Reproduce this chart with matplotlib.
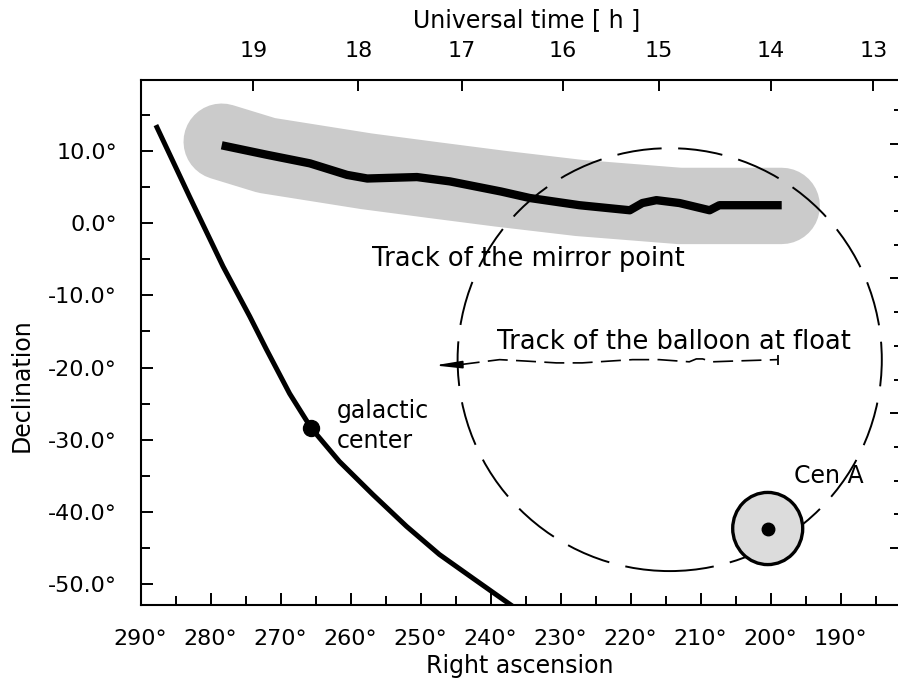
import numpy as np
import matplotlib
matplotlib.use('Agg')
import matplotlib.pyplot as plt
from matplotlib.patches import Ellipse

plt.rcParams['font.family'] = ['DejaVu Sans']
plt.rcParams['axes.unicode_minus'] = False

# galactic plane (RA, Dec in degrees)
gal_ra = [287.8, 283.0, 278.2, 274.4, 272.0, 268.7, 265.6, 261.6, 256.8, 252.0, 247.3, 242.5, 236.8]
gal_dec = [13.6, 3.7, -6.0, -12.9, -17.5, -23.6, -28.4, -33.0, -37.6, -42.0, -45.9, -49.2, -53.1]
gc_ra, gc_dec = 265.6, -28.4

# mirror point track and its uncertainty band
mirror_ra = [278.4, 272.0, 265.8, 260.5, 257.6, 250.5, 245.8, 238.5, 234.4, 227.3,
             220.1, 218.3, 216.3, 213.0, 208.7, 207.3, 203.4, 198.4]
mirror_dec = [10.8, 9.5, 8.3, 6.7, 6.2, 6.4, 5.8, 4.4, 3.5, 2.5,
              1.8, 2.8, 3.2, 2.8, 1.8, 2.5, 2.5, 2.5]
band_ra = [278.4, 272.0, 257.7, 248.3, 238.7, 227.3, 213.0, 198.4]
band_dec = [11.3, 9.4, 7.2, 6.0, 4.8, 3.5, 2.4, 2.4]

# balloon at float; first point is the arrow tip
balloon_ra = [248.0, 244.4, 238.7, 234.9, 230.6, 226.9, 223.0, 219.7, 215.9,
              211.6, 210.6, 209.7, 208.3, 205.4, 199.0]
balloon_dec = [-19.7, -19.6, -18.9, -19.1, -19.35, -19.35, -19.1, -18.9, -18.9,
               -19.2, -18.8, -18.8, -19.2, -19.1, -18.9]

# field of view around the balloon
fov_ra, fov_dec = 214.4, -18.9
fov_half_ra, fov_half_dec = 30.3, 29.3

cen_a_ra, cen_a_dec = 200.4, -42.3
cen_a_radius = 5.0

ut_hours = [19, 18, 17, 16, 15, 14, 13]
ut_ra = [273.9, 258.9, 244.1, 229.7, 215.9, 200.0, 185.3]

ra_major = np.arange(290, 185, -10)
ra_minor = np.arange(285, 180, -10)
dec_major = np.arange(10, -51, -10)
dec_minor = np.arange(15, -51, -10)

W, H = 898, 681
fig = plt.figure(figsize=(W / 100, H / 100), dpi=100)
ax = fig.add_axes([140.5 / W, 1 - 605 / H, (900 - 140.5) / W, (605 - 80) / H])
ax.set_xlim(290, 181.5)
ax.set_ylim(-52.9, 19.85)

for side in ['left', 'bottom', 'top']:
    ax.spines[side].set_linewidth(1.5)
ax.spines['right'].set_visible(False)

ax.set_xticks(ra_major)
ax.set_xticks(ra_minor, minor=True)
ax.set_xticklabels([f"{v}°" for v in ra_major])
ax.set_yticks(dec_major)
ax.set_yticks(dec_minor, minor=True)
ax.set_yticklabels([f"{v:.1f}°" for v in dec_major])
ax.tick_params(which='both', direction='in', width=1.4, labelsize=16, top=False, right=False)
ax.tick_params(which='major', length=8.6)
ax.tick_params(which='minor', length=6.2)
ax.tick_params(axis='x', pad=17)
ax.tick_params(axis='y', pad=17)

# universal time along the top
top = ax.twiny()
top.set_xlim(ax.get_xlim())
top.set_xticks(ut_ra)
top.set_xticklabels([str(h) for h in ut_hours])
top.tick_params(direction='in', length=8, width=1.4, labelsize=16, pad=14)
for s in top.spines.values():
    s.set_visible(False)

# unlabelled scale on the right edge
right = ax.twinx()
right.set_ylim(-1.69, 13.89)
right.set_yticks(np.arange(0, 14, 4))
right.set_yticks(np.arange(0, 14), minor=True)
right.tick_params(which='both', direction='in', width=1.4, labelright=False)
right.tick_params(which='major', length=7)
right.tick_params(which='minor', length=4.5)
for s in right.spines.values():
    s.set_visible(False)

# band and mirror point track
ax.plot(band_ra, band_dec, color='#cbcbcb', lw=55, solid_capstyle='round',
        solid_joinstyle='round', zorder=1)
ax.plot(mirror_ra, mirror_dec, color='black', lw=6, solid_capstyle='butt',
        solid_joinstyle='round', zorder=2)

# galactic plane
ax.plot(gal_ra, gal_dec, color='black', lw=3.6, solid_capstyle='butt', zorder=3)
ax.plot(gc_ra, gc_dec, 'o', color='black', ms=11.5, zorder=4)

# field of view
fov = Ellipse((fov_ra, fov_dec), 2 * fov_half_ra, 2 * fov_half_dec, fill=False,
              ec='black', lw=1.4, linestyle=(0, (23, 8.5)), zorder=3)
ax.add_patch(fov)

# balloon track
ax.plot(balloon_ra[1:], balloon_dec[1:], color='black', lw=1.2,
        linestyle=(0, (12, 5)), zorder=3)
ax.annotate('', xy=(balloon_ra[0], balloon_dec[0]), xytext=(balloon_ra[1], balloon_dec[1]),
            arrowprops=dict(arrowstyle='-|>,head_length=1.6,head_width=0.22',
                            lw=1.2, color='black', shrinkA=0, shrinkB=0), zorder=3)
ax.plot(balloon_ra[-1], balloon_dec[-1], '|', color='black', ms=7, mew=1.3, zorder=3)

# Cen A
cen = Ellipse((cen_a_ra, cen_a_dec), 2 * cen_a_radius, 2 * cen_a_radius,
              fc='#dcdcdc', ec='black', lw=2.4, zorder=4)
ax.add_patch(cen)
ax.plot(cen_a_ra, cen_a_dec, 'o', color='black', ms=9, zorder=5)

ax.text(257.0, -5.0, 'Track of the mirror point', fontsize=18.5, ha='left', va='center', zorder=6)
ax.text(239.1, -16.4, 'Track of the balloon at float', fontsize=18.5, ha='left', va='center', zorder=6)
ax.text(262.0, -28.1, 'galactic\ncenter', fontsize=17, ha='left', va='center',
        linespacing=1.3, zorder=6)
ax.text(196.6, -35.0, 'Cen A', fontsize=17, ha='left', va='center', zorder=6)

fig.text(527 / W, 1 - 20 / H, 'Universal time [ h ]', fontsize=17, ha='center', va='center')
fig.text(520 / W, 1 - 666 / H, 'Right ascension', fontsize=17, ha='center', va='center')
fig.text(22 / W, 1 - 385 / H, 'Declination', fontsize=17, ha='center', va='center', rotation=90)

fig.savefig('out.png', dpi=100)
